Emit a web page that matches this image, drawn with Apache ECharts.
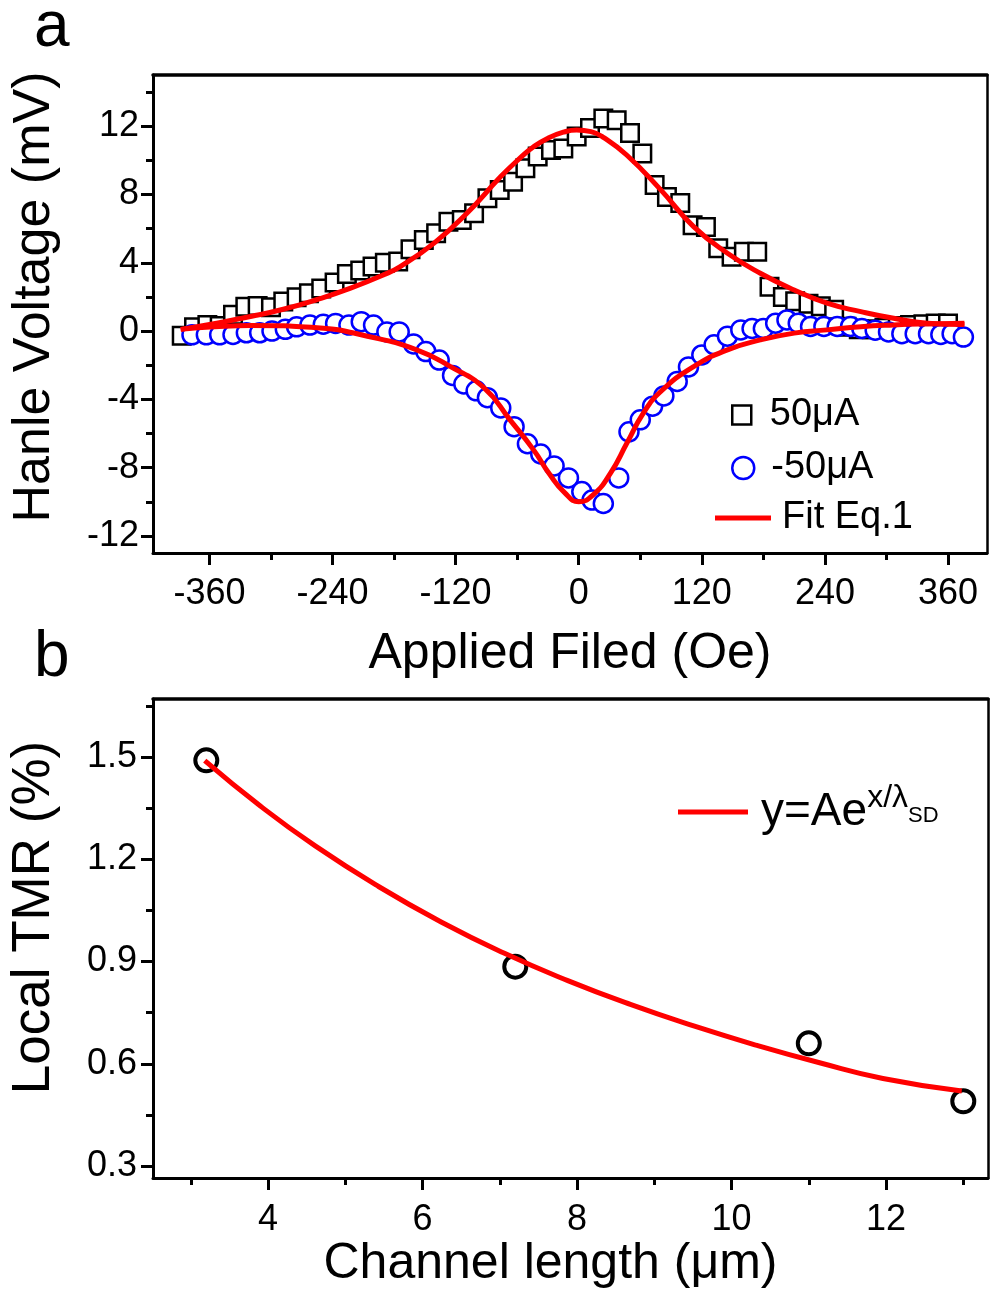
<!DOCTYPE html>
<html lang="en">
<head>
    <meta charset="UTF-8">
    <title>Hanle / TMR</title>
    <script src="https://cdn.jsdelivr.net/npm/echarts@6/dist/echarts.min.js"></script>
    <style>
        html, body { margin: 0; padding: 0; background: #fff; }
    </style>
</head>
<body>
    <div id="main" style="width: 990px; height: 1291px;"></div>
    <script>
        // panel a : Hanle signal, 50uA (squares) and -50uA (circles)
        var squareField = [-387, -375, -362, -350, -337, -325, -313, -300, -288, -275, -263, -251, -238, -226, -213, -201, -189, -176, -164, -151, -139, -127, -114, -102, -89, -77, -64, -52, -40, -27, -15, -2, 11, 24, 37, 50, 62, 74, 86, 99, 111, 124, 136, 149, 161, 174, 186, 199, 211, 224, 236, 249, 261, 273, 286, 298, 311, 323, 336, 348, 360];
        var squareVolt = [-0.28, 0.23, 0.36, 0.3, 0.95, 1.43, 1.47, 1.4, 1.73, 1.98, 2.22, 2.5, 2.85, 3.35, 3.55, 3.78, 4.0, 4.07, 4.8, 5.34, 5.73, 6.41, 6.51, 6.9, 7.78, 8.27, 8.75, 9.54, 10.22, 10.6, 10.7, 11.4, 11.9, 12.45, 12.35, 11.6, 10.4, 8.55, 7.85, 7.5, 6.2, 6.1, 4.85, 4.35, 4.65, 4.65, 2.6, 2.0, 1.75, 1.6, 1.45, 1.25, 0.25, 0.1, 0.1, 0.2, 0.3, 0.35, 0.4, 0.45, 0.45];

        var circleField = [-377, -363, -350, -337, -324, -311, -299, -286, -275, -262, -249, -237, -224, -212, -200, -187, -175, -161, -149, -136, -123, -112, -100, -89, -76, -63, -50, -37, -24, -10, 3, 13, 24, 39, 49, 60, 72, 83, 96, 107, 120, 132, 145, 158, 169, 180, 192, 203, 214, 226, 239, 252, 265, 276, 289, 302, 315, 328, 341, 353, 364, 375];
        var circleVolt = [-0.22, -0.22, -0.22, -0.2, -0.1, -0.1, 0.0, 0.1, 0.25, 0.35, 0.4, 0.45, 0.35, 0.55, 0.35, -0.05, -0.05, -0.75, -1.2, -1.7, -2.6, -3.1, -3.5, -3.9, -4.5, -5.6, -6.6, -7.2, -7.9, -8.6, -9.4, -9.9, -10.1, -8.6, -5.9, -5.2, -4.4, -3.8, -2.95, -2.1, -1.4, -0.8, -0.3, 0.07, 0.15, 0.15, 0.46, 0.65, 0.46, 0.27, 0.27, 0.27, 0.27, 0.15, 0.05, -0.05, -0.15, -0.15, -0.15, -0.2, -0.15, -0.35];

        // fitted curves (Eq.1)
        var fitUpField = [-388, -353, -320, -288, -255, -223, -190, -174, -141, -109, -76, -56, -44, -30, -15, -2, 12, 24, 47, 80, 112, 145, 177, 210, 242, 275, 307, 340, 376];
        var fitUpVolt = [0.1, 0.46, 0.85, 1.28, 1.85, 2.5, 3.3, 3.78, 5.15, 6.9, 9.05, 10.2, 10.8, 11.3, 11.65, 11.78, 11.68, 11.35, 10.3, 8.27, 6.12, 4.56, 3.39, 2.41, 1.63, 1.14, 0.75, 0.46, 0.38];
        var fitLowField = [-388, -355, -320, -255, -206, -158, -125, -92, -67, -44, -28, -14, 0, 14, 31, 47, 63, 80, 112, 145, 177, 210, 242, 275, 307, 340, 376];
        var fitLowVolt = [0.1, 0.25, 0.33, 0.2, -0.3, -1.1, -2.08, -3.34, -5.2, -6.96, -8.42, -9.45, -10.0, -9.6, -8.32, -6.56, -4.8, -3.54, -2.08, -1.1, -0.52, -0.12, 0.07, 0.26, 0.36, 0.42, 0.46];

        var fieldTicks = [-360, -240, -120, 0, 120, 240, 360];
        var fieldMinor = [-300, -180, -60, 60, 180, 300];
        var voltTicks = [-12, -8, -4, 0, 4, 8, 12];
        var voltMinor = [-10, -6, -2, 2, 6, 10, 14];

        // panel b : local TMR vs channel length
        var channelLen = [3.2, 7.2, 11.0, 13.0];
        var localTmr = [1.49, 0.885, 0.66, 0.49];
        var fitLen = [3.18, 3.9, 4.61, 5.43, 6.24, 7.06, 7.88, 8.69, 9.51, 10.33, 11.14, 11.96, 12.98];
        var fitTmr = [1.489, 1.356, 1.239, 1.12, 1.016, 0.924, 0.844, 0.774, 0.711, 0.654, 0.603, 0.557, 0.52];

        var lenTicks = [4, 6, 8, 10, 12];
        var lenMinor = [3, 5, 7, 9, 11, 13];
        var tmrTicks = [0.3, 0.6, 0.9, 1.2, 1.5];
        var tmrMinor = [0.45, 0.75, 1.05, 1.35, 1.65];

        function zip(a, b) {
            var out = [];
            for (var i = 0; i < a.length; i++) {
                out.push([a[i], b[i]]);
            }
            return out;
        }

        var FONT = 'Liberation Sans, Arial, sans-serif';
        var BLACK = '#000';
        var RED = '#ff0000';
        var SQUARE = 'path://M0,0L10,0L10,10L0,10Z';

        // main axis with labels and long ticks
        function mainAxis(grid, pos, min, max, ticks, margin, extra) {
            var ax = {
                type: 'value', gridIndex: grid, position: pos, min: min, max: max,
                axisLine: { show: true, onZero: false, lineStyle: { color: BLACK, width: 3 } },
                axisTick: { show: true, inside: false, length: 12, customValues: ticks, lineStyle: { color: BLACK, width: 3 } },
                axisLabel: { show: true, customValues: ticks, color: BLACK, fontFamily: FONT, fontSize: 36, margin: margin },
                splitLine: { show: false }
            };
            for (var k in extra) ax[k] = extra[k];
            return ax;
        }
        // overlay axis just for the short minor ticks
        function minorAxis(grid, pos, min, max, ticks) {
            return {
                type: 'value', gridIndex: grid, position: pos, min: min, max: max,
                axisLine: { show: false, onZero: false },
                axisTick: { show: true, length: 7, customValues: ticks, lineStyle: { color: BLACK, width: 3 } },
                axisLabel: { show: false },
                splitLine: { show: false }
            };
        }
        // top / right frame lines
        function frameAxis(grid, pos, min, max, w) {
            return {
                type: 'value', gridIndex: grid, position: pos, min: min, max: max,
                axisLine: { show: true, onZero: false, lineStyle: { color: BLACK, width: w } },
                axisTick: { show: false },
                axisLabel: { show: false },
                splitLine: { show: false }
            };
        }

        var xTitle = { color: BLACK, fontFamily: FONT, fontSize: 50 };
        var legendText = { color: BLACK, fontFamily: FONT, fontSize: 38 };

        var chart = echarts.init(document.getElementById('main'), null, { renderer: 'canvas' });

        var option = {
            backgroundColor: '#fff',
            animation: false,
            title: [
                { text: 'a', left: 29, top: -9, textStyle: { color: BLACK, fontFamily: FONT, fontSize: 64, fontWeight: 'normal' } },
                { text: 'b', left: 29, top: 621, textStyle: { color: BLACK, fontFamily: FONT, fontSize: 64, fontWeight: 'normal' } }
            ],
            grid: [
                { left: 153, right: 3, top: 75, height: 478 },
                { left: 153, right: 2, top: 699, height: 479 }
            ],
            xAxis: [
                mainAxis(0, 'bottom', -415, 398, fieldTicks, 23, {
                    name: 'Applied Filed (Oe)', nameLocation: 'middle', nameGap: 76, nameTextStyle: xTitle
                }),
                minorAxis(0, 'bottom', -415, 398, fieldMinor),
                frameAxis(0, 'top', -415, 398, 3.5),
                mainAxis(1, 'bottom', 2.51, 13.32, lenTicks, 24, {
                    name: 'Channel length (μm)', nameLocation: 'middle', nameGap: 60,
                    nameTextStyle: Object.assign({ padding: [0, 40, 0, 0] }, xTitle)
                }),
                minorAxis(1, 'bottom', 2.51, 13.32, lenMinor),
                frameAxis(1, 'top', 2.51, 13.32, 3.5)
            ],
            yAxis: [
                mainAxis(0, 'left', -13, 15, voltTicks, 14, {
                    name: 'Hanle Voltage (mV)', nameLocation: 'middle', nameGap: 92,
                    nameTextStyle: { color: BLACK, fontFamily: FONT, fontSize: 52, padding: [0, 0, 0, 34] }
                }),
                minorAxis(0, 'left', -13, 15, voltMinor),
                frameAxis(0, 'right', -13, 15, 2.5),
                mainAxis(1, 'left', 0.265, 1.67, tmrTicks, 16, {
                    name: 'Local TMR (%)', nameLocation: 'middle', nameGap: 92,
                    nameTextStyle: { color: BLACK, fontFamily: FONT, fontSize: 53, padding: [0, 0, 0, 42] }
                }),
                minorAxis(1, 'left', 0.265, 1.67, tmrMinor),
                frameAxis(1, 'right', 0.265, 1.67, 2.5)
            ],
            legend: [
                {
                    data: ['50μA'], left: 731, top: 396, padding: 0, orient: 'vertical',
                    icon: SQUARE, itemWidth: 46, itemHeight: 19, symbolKeepAspect: true,
                    itemStyle: { color: '#fff', borderColor: BLACK, borderWidth: 2.5 },
                    textStyle: legendText
                },
                {
                    data: ['-50μA'], left: 731, top: 449, padding: 0, orient: 'vertical',
                    icon: 'circle', itemWidth: 46, itemHeight: 22, symbolKeepAspect: true,
                    itemStyle: { color: '#fff', borderColor: '#0000ff', borderWidth: 2.5 },
                    textStyle: legendText
                },
                {
                    data: ['Fit Eq.1'], left: 715, top: 499, padding: 0, orient: 'vertical',
                    icon: 'rect', itemWidth: 56, itemHeight: 5, symbolKeepAspect: false,
                    itemStyle: { color: RED, borderWidth: 0 },
                    textStyle: { color: BLACK, fontFamily: FONT, fontSize: 38, padding: [0, 0, 0, 6] }
                },
                {
                    data: ['fitB'], left: 678, top: 782, padding: 0, orient: 'vertical',
                    icon: 'rect', itemWidth: 70, itemHeight: 5, symbolKeepAspect: false,
                    itemStyle: { color: RED, borderWidth: 0 },
                    formatter: function () { return '{m|y=Ae}{sup|x/λ}{sub|SD}'; },
                    textStyle: {
                        color: BLACK, fontFamily: FONT, fontSize: 46, padding: [0, 0, 0, 8],
                        rich: {
                            m: { fontFamily: FONT, fontSize: 46, color: BLACK },
                            sup: { fontFamily: FONT, fontSize: 32, color: BLACK, padding: [0, 0, 28, 0] },
                            sub: { fontFamily: FONT, fontSize: 22, color: BLACK, padding: [8, 0, 0, 0] }
                        }
                    }
                }
            ],
            series: [
                {
                    name: '50μA', type: 'scatter', xAxisIndex: 0, yAxisIndex: 0,
                    symbol: 'rect', symbolSize: 17.5,
                    itemStyle: { color: '#fff', borderColor: BLACK, borderWidth: 2.5, opacity: 1 },
                    data: zip(squareField, squareVolt), z: 2
                },
                {
                    name: '-50μA', type: 'scatter', xAxisIndex: 0, yAxisIndex: 0,
                    symbol: 'circle', symbolSize: 19,
                    itemStyle: { color: '#fff', borderColor: '#0000ff', borderWidth: 2.5, opacity: 1 },
                    data: zip(circleField, circleVolt), z: 3
                },
                {
                    name: 'Fit Eq.1', type: 'line', xAxisIndex: 0, yAxisIndex: 0,
                    smooth: 0.5, showSymbol: false, symbol: 'none',
                    lineStyle: { color: RED, width: 5 }, itemStyle: { color: RED },
                    data: zip(fitUpField, fitUpVolt), z: 4
                },
                {
                    name: 'Fit Eq.1', type: 'line', xAxisIndex: 0, yAxisIndex: 0,
                    smooth: 0.5, showSymbol: false, symbol: 'none',
                    lineStyle: { color: RED, width: 5 }, itemStyle: { color: RED },
                    data: zip(fitLowField, fitLowVolt), z: 4
                },
                {
                    name: 'TMR', type: 'scatter', xAxisIndex: 3, yAxisIndex: 3,
                    symbol: 'circle', symbolSize: 22,
                    itemStyle: { color: 'rgba(255,255,255,0)', borderColor: BLACK, borderWidth: 4, opacity: 1 },
                    data: zip(channelLen, localTmr), z: 2
                },
                {
                    name: 'fitB', type: 'line', xAxisIndex: 3, yAxisIndex: 3,
                    smooth: 0.5, showSymbol: false, symbol: 'none',
                    lineStyle: { color: RED, width: 5 }, itemStyle: { color: RED },
                    data: zip(fitLen, fitTmr), z: 3
                }
            ]
        };

        chart.setOption(option);
    </script>
</body>
</html>
